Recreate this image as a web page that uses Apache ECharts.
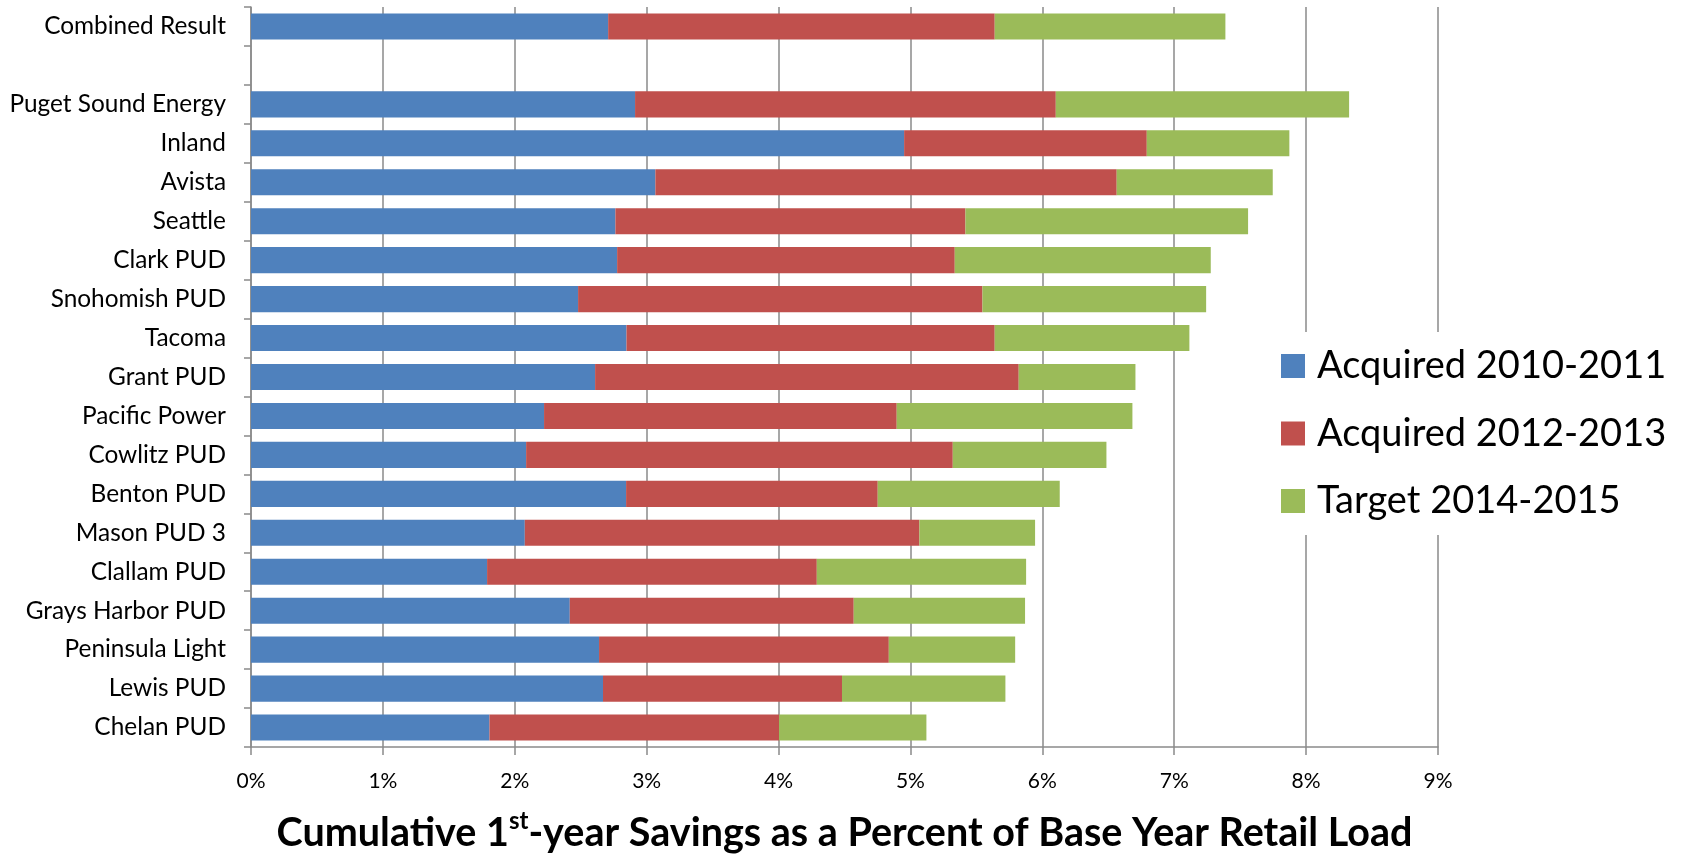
<!DOCTYPE html>
<html>
<head>
<meta charset="utf-8">
<script src="https://cdn.jsdelivr.net/npm/echarts@6/dist/echarts.min.js"></script>
<style>
  html, body { margin: 0; padding: 0; background: #ffffff; }
  #chart { width: 1684px; height: 854px; }
</style>
</head>
<body>
<div id="chart"></div>
<script>
// Categories, top to bottom ('' is the empty separator row)
const categories = [
  'Combined Result', '', 'Puget Sound Energy', 'Inland', 'Avista', 'Seattle',
  'Clark PUD', 'Snohomish PUD', 'Tacoma', 'Grant PUD', 'Pacific Power',
  'Cowlitz PUD', 'Benton PUD', 'Mason PUD 3', 'Clallam PUD',
  'Grays Harbor PUD', 'Peninsula Light', 'Lewis PUD', 'Chelan PUD'
];
// Segment values (percent of base year retail load)
const acquired2010_2011 = [2.708, null, 2.912, 4.952, 3.066, 2.763, 2.776, 2.480, 2.847, 2.609, 2.222, 2.086, 2.844, 2.076, 1.790, 2.417, 2.639, 2.669, 1.808];
const acquired2012_2013 = [2.931, null, 3.190, 1.840, 3.498, 2.654, 2.560, 3.066, 2.792, 3.212, 2.674, 3.235, 1.908, 2.992, 2.500, 2.153, 2.197, 1.812, 2.196];
const target2014_2015   = [1.749, null, 2.224, 1.081, 1.183, 2.143, 1.941, 1.696, 1.476, 0.885, 1.787, 1.165, 1.380, 0.877, 1.587, 1.299, 0.958, 1.239, 1.117];
const seriesNames = ['Acquired 2010-2011', 'Acquired 2012-2013', 'Target 2014-2015'];
const xTicks = { min: 0, max: 9, interval: 1 };

const FONT = 'Lato';
const GRID_COLOR = '#8a8a8a';
const colors = ['#4F81BD', '#C0504D', '#9BBB59'];

const chart = echarts.init(document.getElementById('chart'), null, { renderer: 'canvas' });

const seriesData = [acquired2010_2011, acquired2012_2013, target2014_2015];

chart.setOption({
  animation: false,
  backgroundColor: '#ffffff',
  textStyle: { fontFamily: FONT },
  grid: { left: 251, right: 246, top: 7, bottom: 107, containLabel: false, outerBoundsMode: 'none' },
  legend: {
    orient: 'vertical',
    left: 1274,
    top: 332,
    padding: [14, 12, 14, 7],
    backgroundColor: '#ffffff',
    itemWidth: 24,
    itemHeight: 24,
    itemGap: 27.5,
    icon: 'rect',
    data: seriesNames,
    textStyle: {
      fontFamily: FONT, fontSize: 38, color: '#000000', lineHeight: 40,
      padding: [0, 0, 0, 7]
    }
  },
  xAxis: {
    type: 'value',
    min: xTicks.min, max: xTicks.max, interval: xTicks.interval,
    axisLine: { show: true, lineStyle: { color: GRID_COLOR, width: 1.5 } },
    axisTick: { show: true, length: 8, lineStyle: { color: GRID_COLOR, width: 1.5 } },
    splitLine: { show: true, lineStyle: { color: GRID_COLOR, width: 1.5 } },
    axisLabel: {
      formatter: '{value}%', fontFamily: FONT, fontSize: 21, color: '#000000', margin: 24
    },
    name: '{a|Cumulative 1}{s|st}{a|-year Savings as a Percent of Base Year Retail Load}',
    nameLocation: 'middle',
    nameGap: 60,
    nameTextStyle: {
      rich: {
        a: { fontFamily: FONT, fontWeight: 'bold', fontSize: 39.5, color: '#000000', lineHeight: 46, verticalAlign: 'bottom' },
        s: { fontFamily: FONT, fontWeight: 'bold', fontSize: 24, color: '#000000', lineHeight: 46, verticalAlign: 'top', padding: [2, 0, 0, 0] }
      }
    }
  },
  yAxis: {
    type: 'category',
    inverse: true,
    data: categories,
    axisLine: { show: true, lineStyle: { color: GRID_COLOR, width: 1.5 } },
    axisTick: { show: true, length: 7, lineStyle: { color: GRID_COLOR, width: 1.5 } },
    axisLabel: { fontFamily: FONT, fontSize: 24.4, color: '#000000', margin: 25 },
    splitLine: { show: false }
  },
  series: seriesNames.map((name, i) => ({
    name,
    type: 'bar',
    stack: 'total',
    barCategoryGap: '33%',
    data: seriesData[i],
    itemStyle: { color: colors[i] },
    emphasis: { disabled: true }
  }))
});
</script>
</body>
</html>
